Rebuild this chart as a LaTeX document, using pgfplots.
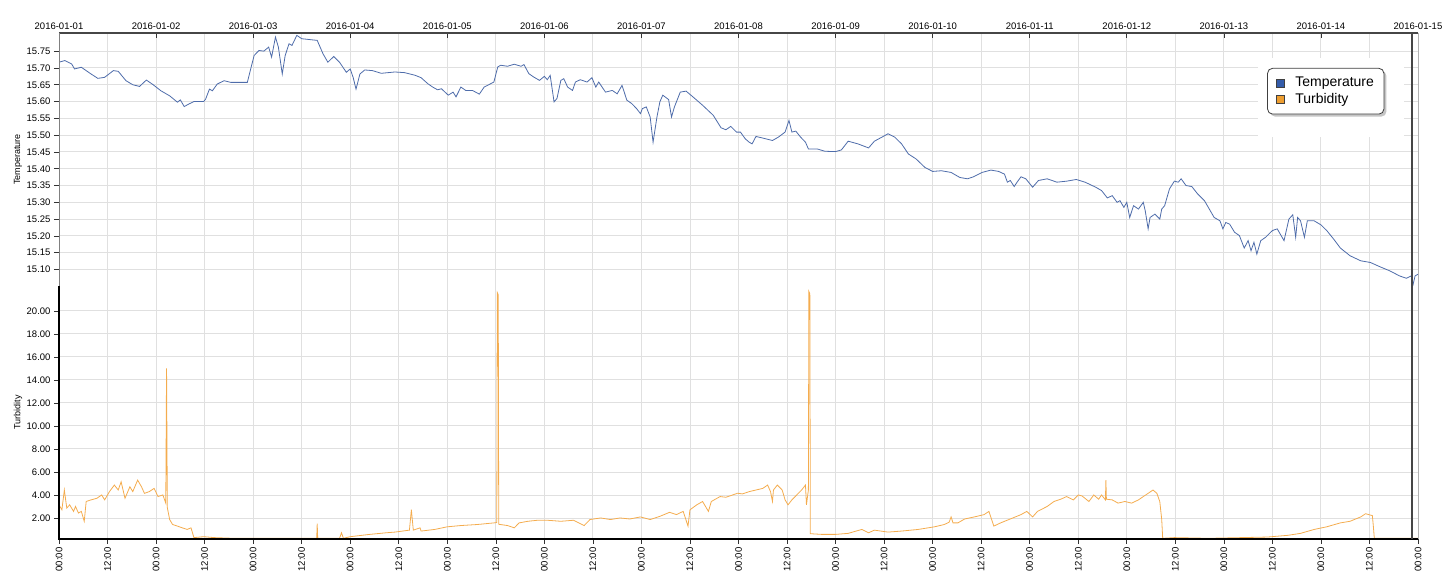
\documentclass[border=0pt]{standalone}
\usepackage{fontspec}
\setmainfont{Liberation Sans}
\usepackage{pgfplots}
\pgfplotsset{compat=1.18}
\usetikzlibrary{shadows}

\definecolor{tempblue}{RGB}{78,108,170}
\definecolor{turborange}{RGB}{244,172,78}
\definecolor{patchblue}{RGB}{52,92,170}
\definecolor{patchorange}{RGB}{238,158,48}
\definecolor{gridgray}{RGB}{224,224,224}
\definecolor{framegray}{RGB}{70,70,70}

% legend patches must not inherit the legend box's drop shadow
\makeatletter
\tikzset{nopre/.code={\let\tikz@preactions\pgfutil@empty}}
\makeatother

\pgfplotsset{
  panel/.style={
    scale only axis, width=1359pt, height=253pt,
    xmin=0, xmax=14, clip=false,
    axis line style={draw=none},
    grid style={gridgray, line width=0.9pt},
    minor grid style={gridgray, line width=0.9pt},
    tick style={black!80, line width=0.6pt},
    major tick length=5pt, minor tick length=0pt,
    ticklabel style={font=\fontsize{9.5}{10}\selectfont},
    label style={font=\fontsize{9}{10}\selectfont},
    ymajorgrids, xmajorgrids,
    ytick pos=left, ytick align=outside,
    yticklabel style={
      /pgf/number format/fixed,
      /pgf/number format/fixed zerofill,
      /pgf/number format/precision=2,
      /pgf/number format/assume math mode=true},
  },
  patch/.style={legend image code/.code={%
    \draw[nopre, sharp corners, draw=black!75, fill=#1, line width=0.7pt] (0pt,-4pt) rectangle (8pt,4pt);
    \path[nopre] (17pt,0pt);}},
}

\begin{document}
\begin{tikzpicture}

% temperature panel
\begin{axis}[panel,
  at={(59pt,286pt)}, anchor=south west,
  ymin=15.051, ymax=15.804,
  ytick={15.10,15.15,15.20,15.25,15.30,15.35,15.40,15.45,15.50,15.55,15.60,15.65,15.70,15.75},
  xtick={0,1,2,3,4,5,6,7,8,9,10,11,12,13,14},
  xticklabels={2016-01-01,2016-01-02,2016-01-03,2016-01-04,2016-01-05,2016-01-06,2016-01-07,2016-01-08,2016-01-09,2016-01-10,2016-01-11,2016-01-12,2016-01-13,2016-01-14,2016-01-15},
  xtick pos=right, xticklabel pos=right, xtick align=inside,
  minor xtick={0.5,1.5,2.5,3.5,4.5,5.5,6.5,7.5,8.5,9.5,10.5,11.5,12.5,13.5},
  xminorgrids,
  ylabel={Temperature},
  ylabel style={at={(axis description cs:-0.0302,0.5)}, anchor=center},
  legend cell align=left,
  legend style={at={(0.889,0.862)}, anchor=north west,
    draw=black!75, line width=0.8pt, rounded corners=5pt, fill=white,
    drop shadow={shadow xshift=2.5pt, shadow yshift=-2.5pt, opacity=0.45},
    font=\fontsize{14}{15}\selectfont, inner xsep=8pt, inner ysep=7pt,
    row sep=1pt},
]
\fill[white] (rel axis cs:0.882,0.589) rectangle (rel axis cs:0.990,0.901);
\addlegendimage{patch=patchblue}
\addlegendentry{Temperature}
\addlegendimage{patch=patchorange}
\addlegendentry{Turbidity}
\addplot[tempblue, line width=0.8pt, forget plot] table {
0.00 15.717
0.06 15.722
0.13 15.712
0.16 15.697
0.23 15.702
0.28 15.692
0.33 15.682
0.40 15.669
0.47 15.672
0.56 15.692
0.61 15.690
0.69 15.662
0.76 15.650
0.83 15.645
0.90 15.664
0.97 15.650
1.05 15.632
1.14 15.617
1.22 15.598
1.25 15.605
1.29 15.585
1.34 15.593
1.39 15.600
1.49 15.600
1.51 15.607
1.55 15.637
1.58 15.632
1.63 15.652
1.70 15.662
1.77 15.657
1.85 15.657
1.94 15.657
2.01 15.737
2.06 15.752
2.11 15.750
2.16 15.762
2.19 15.732
2.23 15.792
2.26 15.762
2.30 15.682
2.33 15.737
2.37 15.772
2.40 15.767
2.45 15.797
2.50 15.787
2.66 15.782
2.69 15.762
2.72 15.742
2.77 15.717
2.83 15.734
2.89 15.717
2.96 15.687
3.00 15.697
3.03 15.672
3.06 15.637
3.10 15.682
3.15 15.694
3.23 15.692
3.32 15.684
3.46 15.688
3.56 15.686
3.67 15.678
3.73 15.671
3.80 15.653
3.85 15.643
3.90 15.635
3.94 15.638
4.01 15.619
4.06 15.628
4.09 15.614
4.14 15.643
4.19 15.633
4.26 15.633
4.33 15.622
4.38 15.643
4.48 15.658
4.52 15.703
4.55 15.708
4.62 15.705
4.69 15.711
4.76 15.705
4.79 15.710
4.84 15.683
4.89 15.673
4.95 15.663
5.00 15.675
5.03 15.665
5.06 15.678
5.10 15.599
5.13 15.609
5.17 15.663
5.20 15.668
5.24 15.643
5.29 15.633
5.32 15.658
5.37 15.665
5.44 15.658
5.49 15.671
5.53 15.643
5.56 15.658
5.63 15.628
5.70 15.633
5.75 15.623
5.80 15.648
5.85 15.604
5.90 15.594
5.95 15.579
5.99 15.564
6.01 15.579
6.05 15.584
6.09 15.554
6.12 15.479
6.16 15.554
6.19 15.599
6.22 15.619
6.28 15.606
6.31 15.554
6.34 15.584
6.40 15.628
6.46 15.631
6.53 15.614
6.63 15.589
6.74 15.559
6.82 15.522
6.87 15.516
6.92 15.526
6.98 15.509
7.02 15.509
7.07 15.489
7.11 15.479
7.14 15.474
7.18 15.496
7.24 15.492
7.35 15.484
7.41 15.494
7.48 15.509
7.52 15.544
7.55 15.509
7.59 15.512
7.64 15.494
7.69 15.479
7.72 15.459
7.81 15.459
7.89 15.452
8.00 15.451
8.06 15.456
8.13 15.482
8.23 15.474
8.34 15.462
8.40 15.482
8.49 15.496
8.54 15.504
8.61 15.494
8.68 15.474
8.75 15.444
8.83 15.429
8.92 15.404
9.00 15.392
9.09 15.394
9.19 15.389
9.28 15.374
9.36 15.370
9.42 15.376
9.51 15.389
9.60 15.396
9.68 15.392
9.74 15.384
9.77 15.360
9.80 15.365
9.84 15.347
9.87 15.360
9.91 15.376
9.96 15.370
10.03 15.345
10.09 15.365
10.18 15.370
10.28 15.360
10.38 15.363
10.48 15.368
10.57 15.360
10.68 15.345
10.74 15.335
10.80 15.313
10.85 15.320
10.90 15.300
10.93 15.305
10.97 15.285
11.00 15.300
11.03 15.255
11.07 15.290
11.12 15.280
11.17 15.300
11.19 15.275
11.22 15.221
11.24 15.255
11.29 15.265
11.34 15.250
11.36 15.280
11.39 15.290
11.44 15.340
11.49 15.363
11.53 15.360
11.56 15.370
11.61 15.350
11.67 15.347
11.73 15.325
11.80 15.305
11.84 15.285
11.90 15.255
11.96 15.245
11.99 15.221
12.02 15.240
12.06 15.235
12.11 15.211
12.16 15.201
12.21 15.164
12.25 15.186
12.28 15.156
12.31 15.181
12.34 15.146
12.38 15.186
12.43 15.196
12.50 15.216
12.55 15.221
12.62 15.186
12.67 15.250
12.71 15.263
12.74 15.196
12.76 15.255
12.79 15.245
12.83 15.196
12.86 15.245
12.93 15.245
13.00 15.233
13.06 15.216
13.13 15.191
13.20 15.164
13.30 15.141
13.41 15.126
13.51 15.121
13.61 15.108
13.71 15.096
13.81 15.081
13.88 15.074
13.93 15.081
13.95 15.056
13.97 15.081
14.00 15.086
};
\draw[framegray, line width=1.8pt] (rel axis cs:0,1) -- (rel axis cs:1,1);
\draw[gray, line width=0.7pt] (rel axis cs:0,0) -- (rel axis cs:0,1);
\draw[gray!60, line width=0.7pt] (rel axis cs:1,0) -- (rel axis cs:1,1);
\draw[framegray, line width=1.5pt] (axis cs:13.94,15.051) -- (axis cs:13.94,15.804);
\end{axis}

% turbidity panel
\begin{axis}[panel,
  at={(59pt,33pt)}, anchor=south west,
  ymin=0.17, ymax=22.17,
  ytick={2,4,6,8,10,12,14,16,18,20},
  xtick={0,0.5,1,1.5,2,2.5,3,3.5,4,4.5,5,5.5,6,6.5,7,7.5,8,8.5,9,9.5,10,10.5,11,11.5,12,12.5,13,13.5,14},
  xticklabels={00:00,12:00,00:00,12:00,00:00,12:00,00:00,12:00,00:00,12:00,00:00,12:00,00:00,12:00,00:00,12:00,00:00,12:00,00:00,12:00,00:00,12:00,00:00,12:00,00:00,12:00,00:00,12:00,00:00},
  xticklabel style={rotate=90, anchor=east},
  xtick pos=left, xtick align=outside,
  ylabel={Turbidity},
  ylabel style={at={(axis description cs:-0.0302,0.5)}, anchor=center},
]
\addplot[turborange, line width=0.8pt] table {
0.000 3.14
0.030 2.71
0.055 4.43
0.080 2.86
0.110 3.14
0.150 2.57
0.170 3.00
0.200 2.43
0.230 2.57
0.260 1.71
0.280 3.43
0.330 3.57
0.390 3.71
0.440 4.00
0.470 3.57
0.520 4.29
0.570 4.86
0.610 4.43
0.640 5.14
0.680 3.71
0.730 4.71
0.760 4.29
0.810 5.29
0.850 4.71
0.880 4.14
0.930 4.29
0.980 4.57
1.020 3.86
1.070 4.00
1.100 3.29
1.108 15.00
1.116 2.90
1.140 1.86
1.170 1.43
1.220 1.29
1.270 1.14
1.320 1.00
1.360 1.14
1.380 0.57
1.390 0.29
1.490 0.37
1.600 0.29
1.800 0.23
2.010 0.23
2.350 0.23
2.655 0.23
2.660 1.51
2.665 0.23
2.890 0.23
2.910 0.71
2.930 0.23
3.000 0.37
3.200 0.57
3.370 0.71
3.460 0.77
3.610 0.94
3.630 2.71
3.650 0.94
3.720 1.14
3.730 0.86
3.870 1.00
4.000 1.23
4.140 1.34
4.310 1.43
4.480 1.57
4.510 1.60
4.515 21.60
4.525 21.40
4.530 1.45
4.620 1.34
4.690 1.14
4.740 1.57
4.830 1.71
4.930 1.80
5.030 1.80
5.170 1.71
5.300 1.80
5.410 1.34
5.470 1.86
5.580 2.00
5.680 1.86
5.780 2.00
5.880 1.91
5.990 2.09
6.090 1.86
6.190 2.14
6.290 2.49
6.360 2.29
6.430 2.57
6.480 1.29
6.500 2.71
6.570 3.14
6.630 3.43
6.690 2.57
6.720 3.43
6.810 3.86
6.870 3.80
6.940 4.00
6.990 4.15
7.040 4.09
7.110 4.29
7.180 4.43
7.250 4.57
7.300 4.86
7.330 4.29
7.350 3.43
7.360 4.43
7.400 4.86
7.450 4.43
7.480 3.57
7.510 3.14
7.550 3.57
7.600 4.00
7.650 4.43
7.690 4.86
7.700 3.14
7.720 4.43
7.725 21.70
7.735 21.50
7.740 0.63
7.860 0.57
8.000 0.57
8.130 0.66
8.270 1.00
8.340 0.71
8.400 0.94
8.540 0.77
8.680 0.86
8.850 1.00
9.020 1.23
9.120 1.43
9.170 1.63
9.190 2.09
9.210 1.57
9.260 1.57
9.330 1.91
9.430 2.09
9.530 2.29
9.580 2.57
9.630 1.29
9.700 1.57
9.800 1.91
9.910 2.29
9.970 2.57
10.030 2.09
10.080 2.57
10.180 3.00
10.250 3.43
10.320 3.63
10.380 3.86
10.450 3.57
10.500 4.00
10.540 3.91
10.610 3.43
10.660 4.00
10.710 3.63
10.740 4.00
10.780 3.57
10.785 5.29
10.790 3.63
10.850 3.57
10.910 3.29
10.980 3.43
11.050 3.29
11.120 3.57
11.170 3.86
11.220 4.14
11.270 4.43
11.310 4.14
11.340 3.43
11.360 1.86
11.370 0.23
11.490 0.29
11.840 0.23
12.180 0.29
12.450 0.34
12.660 0.49
12.790 0.66
12.930 1.00
13.060 1.23
13.200 1.57
13.300 1.71
13.410 2.09
13.460 2.37
13.530 2.20
13.540 1.29
13.550 0.23
13.880 0.23
14.000 0.23
};
\draw[black, line width=2.2pt] (rel axis cs:0,1) -- (rel axis cs:0,0) -- (rel axis cs:1,0);
\draw[gray!60, line width=0.7pt] (rel axis cs:1,0) -- (rel axis cs:1,1);
\draw[framegray, line width=1.5pt] (axis cs:13.94,0.17) -- (axis cs:13.94,22.17);
\end{axis}

\pgfresetboundingbox
\useasboundingbox (0,0) rectangle (1449pt,572pt);
\end{tikzpicture}
\end{document}
